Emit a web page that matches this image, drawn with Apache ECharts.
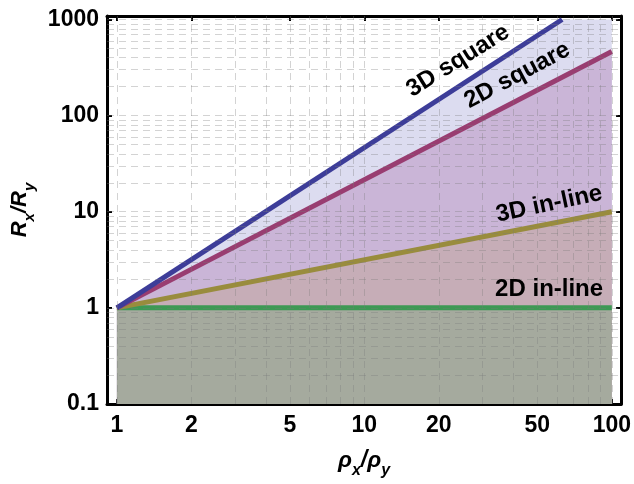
<!DOCTYPE html>
<html>
<head>
<meta charset="utf-8">
<script src="https://cdn.jsdelivr.net/npm/echarts@6/dist/echarts.min.js"></script>
<style>html,body{margin:0;padding:0;background:#fff}#c{width:634px;height:484px}</style>
</head>
<body>
<div id="c"></div>
<script>
// ---- data ----
const rho = [1, 100];
const inline2D = [1, 1];          // 2D in-line
const inline3D = [1, 10];         // 3D in-line
const square2D = [1, 464];        // 2D square
const rhoSquare3D = [1, 63];      // 3D square leaves plot range at ~63
const square3D = [1, 1000];
const plotTop = 1000;             // plot range ceiling (fill is clipped there)
const xTicks = [1, 2, 5, 10, 20, 50, 100];
const yTicks = [0.1, 1, 10, 100, 1000];
const xGrid = [1,2,3,4,5,6,7,8,9,10,20,30,40,50,60,70,80,90,100];
const yGrid = [0.2,0.3,0.4,0.5,0.6,0.7,0.8,0.9,1,2,3,4,5,6,7,8,9,10,20,30,40,50,60,70,80,90,100,200,300,400,500,600,700,800,900,1000];

const pairs = (xs, ys) => xs.map((x, i) => [x, ys[i]]);
const FONT = 'Liberation Sans';
const fmt = v => String(+(+v).toPrecision(6));

const c = {
  blue: '#3d3d99', magenta: '#993d71', olive: '#998c3d', green: '#3d9954',
  fillBlue: '#dcdcf0', fillMag: '#cab5d7', fillOlive: '#c6adb7', fillGreen: '#a5aa9e'
};

function axisCommon(extra) {
  return Object.assign({
    type: 'log', logBase: 10,
    axisLine: { show: true, lineStyle: { color: '#000', width: 3 } },
    splitLine: { show: false },
    minorTick: { show: false }, minorSplitLine: { show: false }
  }, extra);
}

const xMin = 0.912, xMax = 109, yMin = 0.1, yMax = 1087;

function lineLabel(text, coord, rotate) {
  return {
    symbol: 'circle', symbolSize: 1, itemStyle: { color: 'rgba(0,0,0,0)' },
    label: { show: true, position: 'inside', formatter: text, rotate: rotate, fontSize: 24, fontWeight: 'bold', color: '#000', fontFamily: FONT },
    data: [{ coord: coord }]
  };
}

const option = {
  animation: false,
  backgroundColor: '#fff',
  grid: { left: 107, right: 8, top: 16, bottom: 78 },
  xAxis: [
    axisCommon({
      min: xMin, max: xMax, position: 'bottom',
      axisTick: { show: true, inside: true, length: 5, customValues: xTicks, lineStyle: { color: '#000', width: 2 } },
      axisLabel: { customValues: xTicks, formatter: fmt, fontSize: 23, fontWeight: 'bold', color: '#000', fontFamily: FONT, margin: 10 },
      name: '{i|ρ}{s|x}{i|/ρ}{s|y}', nameLocation: 'middle', nameGap: 45,
      nameTextStyle: {
        rich: {
          i: { fontSize: 23, fontWeight: 'bold', fontStyle: 'italic', fontFamily: FONT, color: '#000', lineHeight: 30, verticalAlign: 'top' },
          s: { fontSize: 16, fontWeight: 'bold', fontStyle: 'italic', fontFamily: FONT, color: '#000', lineHeight: 16, verticalAlign: 'bottom' }
        }
      }
    }),
    axisCommon({
      min: xMin, max: xMax, position: 'top',
      axisTick: { show: true, inside: true, length: 5, customValues: xTicks, lineStyle: { color: '#000', width: 2 } },
      axisLabel: { show: false }
    })
  ],
  yAxis: [
    axisCommon({
      min: yMin, max: yMax, position: 'left',
      axisTick: { show: true, inside: true, length: 5, customValues: yTicks, lineStyle: { color: '#000', width: 2 } },
      axisLabel: { customValues: yTicks, formatter: fmt, fontSize: 23, fontWeight: 'bold', color: '#000', fontFamily: FONT, margin: 8 },
      name: '{i|R}{s|x}{i|/R}{s|y}', nameLocation: 'middle', nameGap: 70, nameRotate: 90,
      nameTextStyle: {
        rich: {
          i: { fontSize: 22, fontWeight: 'bold', fontStyle: 'italic', fontFamily: FONT, color: '#000', lineHeight: 28, verticalAlign: 'top' },
          s: { fontSize: 15, fontWeight: 'bold', fontStyle: 'italic', fontFamily: FONT, color: '#000', lineHeight: 15, verticalAlign: 'bottom' }
        }
      }
    }),
    axisCommon({
      min: yMin, max: yMax, position: 'right',
      axisTick: { show: true, inside: true, length: 5, customValues: yTicks, lineStyle: { color: '#000', width: 2 } },
      axisLabel: { show: false }
    })
  ],
  series: [
    // fills (Filling -> Bottom), clipped at plot range top
    { type: 'line', z: 1, silent: true, symbol: 'none', data: pairs(rhoSquare3D, square3D).concat([[rho[1], plotTop]]),
      lineStyle: { width: 0, opacity: 0 }, areaStyle: { color: c.fillBlue, opacity: 1, origin: 'start' } },
    { type: 'line', z: 1, silent: true, symbol: 'none', data: pairs(rho, square2D),
      lineStyle: { width: 0, opacity: 0 }, areaStyle: { color: c.fillMag, opacity: 1, origin: 'start' } },
    { type: 'line', z: 1, silent: true, symbol: 'none', data: pairs(rho, inline3D),
      lineStyle: { width: 0, opacity: 0 }, areaStyle: { color: c.fillOlive, opacity: 1, origin: 'start' } },
    { type: 'line', z: 1, silent: true, symbol: 'none', data: pairs(rho, inline2D),
      lineStyle: { width: 0, opacity: 0 }, areaStyle: { color: c.fillGreen, opacity: 1, origin: 'start' } },
    // dashed grid lines
    { type: 'line', z: 2, silent: true, symbol: 'none', data: [[1, 1]], lineStyle: { width: 0, opacity: 0 },
      markLine: {
        silent: true, symbol: ['none', 'none'], label: { show: false }, animation: false,
        lineStyle: { color: 'rgba(120,120,120,0.33)', width: 1, type: [7, 5] },
        emphasis: { disabled: true },
        data: xGrid.map(v => ({ xAxis: v })).concat(yGrid.map(v => ({ yAxis: v })))
      } },
    // curves
    { name: '2D in-line', type: 'line', z: 3, symbol: 'none', data: pairs(rho, inline2D), lineStyle: { color: c.green, width: 5 },
      markPoint: lineLabel('2D in-line', [55.8, 1.56], 0) },
    { name: '3D in-line', type: 'line', z: 3, symbol: 'none', data: pairs(rho, inline3D), lineStyle: { color: c.olive, width: 5 },
      markPoint: lineLabel('3D in-line', [55.8, 12.0], 12) },
    { name: '2D square', type: 'line', z: 3, symbol: 'none', data: pairs(rho, square2D), lineStyle: { color: c.magenta, width: 5 },
      markPoint: lineLabel('2D square', [41.5, 262], 28) },
    { name: '3D square', type: 'line', z: 3, symbol: 'none', data: pairs(rhoSquare3D, square3D), lineStyle: { color: c.blue, width: 5 },
      markPoint: lineLabel('3D square', [23.9, 372], 32) }
  ]
};

const chart = echarts.init(document.getElementById('c'), null, { renderer: 'canvas' });
chart.setOption(option);
</script>
</body>
</html>
